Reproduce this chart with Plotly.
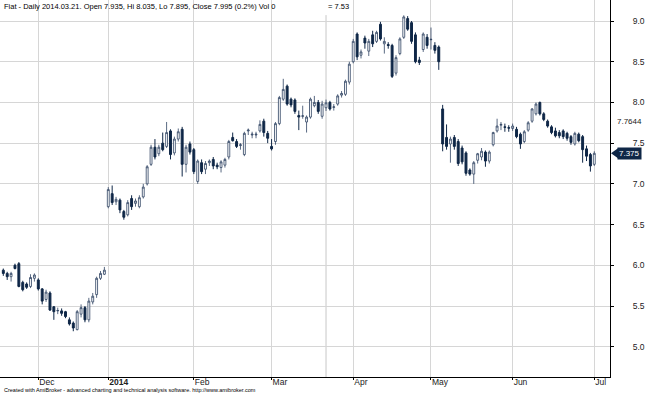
import pandas as pd
import plotly.graph_objects as go

# ---- data ----
holidays = ["2013-12-24", "2013-12-25", "2013-12-26", "2013-12-31", "2014-01-01",
            "2014-04-18", "2014-04-21", "2014-05-01"]
dates = [d.strftime("%Y-%m-%d") for d in pd.bdate_range("2013-11-19", "2014-07-01")
         if d.strftime("%Y-%m-%d") not in holidays]

opens = [5.94, 5.90, 5.86, 6.00, 6.02, 5.79, 5.77, 5.74, 5.84, 5.82,
         5.71, 5.58, 5.66, 5.49, 5.44, 5.44, 5.43, 5.33, 5.29, 5.21,
         5.40, 5.48, 5.33, 5.55, 5.64, 5.84, 5.89, 6.72, 6.88, 6.78,
         6.80, 6.66, 6.62, 6.82, 6.76, 6.72, 6.84, 7.00, 7.24, 7.45,
         7.37, 7.50, 7.46, 7.65, 7.38, 7.55, 7.67, 7.24, 7.49, 7.42,
         7.03, 7.26, 7.18, 7.26, 7.30, 7.23, 7.20, 7.23, 7.33, 7.57,
         7.52, 7.47, 7.36, 7.65, 7.60, 7.60, 7.65, 7.77, 7.62, 7.46,
         7.52, 7.74, 8.04, 8.20, 8.04, 8.03, 7.84, 7.83, 7.76, 7.82,
         7.96, 8.00, 7.83, 7.935, 8.00, 7.94, 7.98, 8.09, 8.10, 8.25,
         8.50, 8.84, 8.58, 8.79, 8.63, 8.83, 8.75, 8.96, 8.72, 8.71,
         8.70, 8.36, 8.60, 8.80, 9.03, 8.98, 8.83, 8.52, 8.65, 8.80,
         8.77, 8.70, 8.68, 7.92, 7.57, 7.49, 7.57, 7.52, 7.44, 7.38,
         7.17, 7.12, 7.29, 7.33, 7.39, 7.28, 7.48, 7.65, 7.72, 7.70,
         7.69, 7.68, 7.67, 7.61, 7.52, 7.66, 7.77, 7.86, 8.00, 7.86,
         7.77, 7.70, 7.65, 7.63, 7.65, 7.62, 7.58, 7.49, 7.61, 7.58,
         7.43, 7.36, 7.24]
highs = [5.96, 5.92, 5.92, 6.02, 6.04, 5.81, 5.79, 5.89, 5.90, 5.84,
         5.72, 5.70, 5.68, 5.50, 5.48, 5.47, 5.44, 5.36, 5.31, 5.45,
         5.52, 5.50, 5.60, 5.66, 5.86, 5.93, 5.98, 6.96, 6.98, 6.84,
         6.82, 6.68, 6.80, 6.86, 6.82, 6.86, 7.00, 7.23, 7.48, 7.55,
         7.48, 7.63, 7.76, 7.67, 7.58, 7.68, 7.70, 7.48, 7.52, 7.44,
         7.30, 7.30, 7.28, 7.30, 7.33, 7.26, 7.29, 7.32, 7.54, 7.63,
         7.55, 7.50, 7.64, 7.68, 7.64, 7.64, 7.78, 7.80, 7.65, 7.55,
         7.76, 8.08, 8.29, 8.22, 8.06, 8.05, 7.90, 7.96, 7.84, 8.06,
         8.08, 8.03, 8.02, 8.035, 8.02, 7.98, 8.10, 8.14, 8.28, 8.50,
         8.78, 8.86, 8.65, 8.82, 8.78, 8.88, 8.88, 8.99, 8.80, 8.74,
         8.72, 8.58, 8.80, 9.07, 9.06, 9.00, 8.86, 8.56, 8.86, 8.84,
         8.92, 8.74, 8.70, 7.97, 7.73, 7.58, 7.60, 7.55, 7.47, 7.40,
         7.19, 7.28, 7.38, 7.44, 7.41, 7.41, 7.64, 7.80, 7.76, 7.74,
         7.72, 7.74, 7.70, 7.63, 7.66, 7.77, 7.93, 8.00, 8.01, 7.88,
         7.79, 7.72, 7.69, 7.66, 7.67, 7.64, 7.60, 7.64, 7.63, 7.60,
         7.47, 7.38, 7.40]
lows = [5.87, 5.82, 5.80, 5.95, 5.73, 5.68, 5.71, 5.72, 5.80, 5.69,
        5.52, 5.55, 5.44, 5.33, 5.40, 5.38, 5.35, 5.26, 5.19, 5.20,
        5.36, 5.30, 5.30, 5.52, 5.60, 5.82, 5.88, 6.70, 6.74, 6.74,
        6.64, 6.56, 6.60, 6.68, 6.72, 6.70, 6.82, 6.98, 7.22, 7.30,
        7.34, 7.40, 7.44, 7.30, 7.35, 7.52, 7.09, 7.14, 7.36, 7.12,
        7.00, 7.12, 7.12, 7.22, 7.18, 7.18, 7.14, 7.20, 7.30, 7.52,
        7.44, 7.42, 7.34, 7.60, 7.56, 7.56, 7.63, 7.58, 7.50, 7.41,
        7.48, 7.72, 8.02, 7.96, 7.94, 7.86, 7.66, 7.80, 7.63, 7.80,
        7.94, 7.86, 7.80, 7.895, 7.90, 7.90, 7.96, 8.06, 8.08, 8.22,
        8.48, 8.52, 8.54, 8.66, 8.57, 8.68, 8.73, 8.76, 8.60, 8.66,
        8.30, 8.33, 8.58, 8.78, 8.88, 8.72, 8.48, 8.46, 8.62, 8.66,
        8.65, 8.60, 8.40, 7.40, 7.42, 7.26, 7.42, 7.22, 7.24, 7.10,
        7.10, 7.00, 7.25, 7.29, 7.21, 7.25, 7.46, 7.63, 7.66, 7.64,
        7.64, 7.65, 7.56, 7.43, 7.50, 7.64, 7.75, 7.84, 7.84, 7.77,
        7.69, 7.61, 7.57, 7.56, 7.55, 7.53, 7.48, 7.47, 7.51, 7.26,
        7.28, 7.15, 7.22]
closes = [5.90, 5.86, 5.90, 5.96, 5.74, 5.70, 5.73, 5.85, 5.88, 5.71,
          5.56, 5.67, 5.45, 5.43, 5.445, 5.41, 5.37, 5.28, 5.23, 5.43,
          5.48, 5.33, 5.56, 5.62, 5.84, 5.90, 5.94, 6.93, 6.77, 6.81,
          6.68, 6.59, 6.77, 6.72, 6.79, 6.83, 6.96, 7.21, 7.45, 7.33,
          7.45, 7.42, 7.63, 7.36, 7.55, 7.64, 7.24, 7.45, 7.39, 7.15,
          7.28, 7.15, 7.25, 7.28, 7.22, 7.21, 7.27, 7.30, 7.52, 7.53,
          7.46, 7.48, 7.62, 7.66, 7.61, 7.61, 7.73, 7.63, 7.56, 7.43,
          7.74, 8.06, 8.16, 7.98, 7.97, 7.89, 7.82, 7.835, 7.82, 8.04,
          8.00, 7.89, 7.98, 7.995, 7.92, 7.945, 8.08, 8.11, 8.26, 8.47,
          8.75, 8.56, 8.62, 8.73, 8.75, 8.72, 8.86, 8.78, 8.75, 8.70,
          8.32, 8.55, 8.78, 9.05, 8.90, 8.75, 8.50, 8.49, 8.84, 8.70,
          8.775, 8.64, 8.50, 7.49, 7.46, 7.55, 7.46, 7.25, 7.27, 7.13,
          7.12, 7.26, 7.37, 7.40, 7.28, 7.39, 7.63, 7.71, 7.73, 7.695,
          7.685, 7.71, 7.58, 7.49, 7.64, 7.75, 7.92, 7.98, 7.86, 7.79,
          7.71, 7.63, 7.59, 7.59, 7.58, 7.56, 7.51, 7.62, 7.53, 7.42,
          7.34, 7.22, 7.375]

month_ticks = ["2013-12-02", "2014-01-02", "2014-02-03", "2014-03-03",
               "2014-04-01", "2014-05-02", "2014-06-02", "2014-07-01"]
month_labels = ["Dec", "<b>2014</b>", "Feb", "Mar", "Apr", "May", "Jun", "Jul"]
price_ticks = [5.0, 5.5, 6.0, 6.5, 7.0, 7.5, 8.0, 8.5, 9.0]

selected_date = "2014-03-21"
title_text = "Fiat - Daily 2014.03.21. Open 7.935, Hi 8.035, Lo 7.895, Close 7.995 (0.2%) Vol 0"
indicator_text = "= 7.53"
side_value = 7.7644
footer_text = ("Created with AmiBroker - advanced charting and technical analysis software. "
               "http://www.amibroker.com")

NAVY = "#0f2747"
GRID = "#d6d6d6"
FONT = "Liberation Sans, Arial, sans-serif"

fig = go.Figure(go.Candlestick(
    x=dates, open=opens, high=highs, low=lows, close=closes,
    increasing=dict(fillcolor="white", line=dict(color="#2e4262", width=0.8)),
    decreasing=dict(fillcolor=NAVY, line=dict(color=NAVY, width=1)),
    whiskerwidth=0, showlegend=False, hoverinfo="skip",
))

fig.update_layout(
    width=645, height=394,
    margin=dict(l=0, r=35, t=0, b=17, autoexpand=False),
    paper_bgcolor="white", plot_bgcolor="white",
    font=dict(family=FONT, size=8, color="black"),
    xaxis=dict(
        type="category", range=[-0.85, 156.04],
        rangeslider=dict(visible=False),
        tickmode="array", tickvals=month_ticks, ticktext=month_labels,
        ticklabelposition="outside right",
        ticklabelstandoff=-3,
        showgrid=True, gridcolor=GRID, gridwidth=1,
        ticks="outside", ticklen=2, tickcolor="black",
        showline=True, linecolor="black", linewidth=1,
        tickfont=dict(size=8.5, color="#222"),
        zeroline=False, fixedrange=True, automargin=False,
    ),
    yaxis=dict(
        side="right", range=[4.628, 9.258],
        tickmode="array", tickvals=price_ticks,
        ticktext=[f"{v:.1f}" for v in price_ticks],
        showgrid=True, gridcolor=GRID, gridwidth=1,
        ticks="outside", ticklen=3, tickcolor="black",
        ticklabelstandoff=17,
        showline=True, linecolor="black", linewidth=1, mirror=True,
        tickfont=dict(size=8.5, color="#222"),
        zeroline=False, fixedrange=True, automargin=False,
    ),
)

# white band behind the title (hides gridlines there)
fig.add_shape(type="rect", xref="paper", yref="paper", x0=0, x1=1, y0=0.96, y1=1,
              fillcolor="white", line=dict(width=0), layer="between")
# selected-bar cursor line
fig.add_shape(type="line", xref="x", yref="paper", x0=selected_date, x1=selected_date,
              y0=0, y1=0.96, line=dict(color="#c8c8c8", width=1), layer="between")

fig.add_annotation(xref="paper", yref="paper", x=0.003, y=1, xanchor="left", yanchor="top",
                   text=title_text, showarrow=False, font=dict(size=7.5, color="black"))
fig.add_annotation(xref="paper", yref="paper", x=326 / 610, y=1, xanchor="left", yanchor="top",
                   text=indicator_text, showarrow=False, font=dict(size=7.5, color="black"))
fig.add_annotation(xref="paper", yref="y", x=1, y=side_value, xanchor="left", yanchor="middle",
                   xshift=5, text=f"{side_value}", showarrow=False, font=dict(size=8, color="#222"))
fig.add_annotation(xref="paper", yref="y", x=1, y=closes[-1], xanchor="left", yanchor="middle",
                   xshift=7, text=f"{closes[-1]}", showarrow=False, bgcolor=NAVY, borderpad=1,
                   font=dict(size=8, color="white"))
fig.add_shape(type="path", xref="paper", yref="y", xsizemode="pixel", ysizemode="pixel",
              xanchor=1, yanchor=closes[-1], path="M 1,0 L 8,5 L 8,-5 Z",
              fillcolor=NAVY, line=dict(width=0), layer="above")
fig.add_annotation(xref="paper", yref="paper", x=0.003, y=-0.0345, xanchor="left", yanchor="middle",
                   text=footer_text, showarrow=False, font=dict(size=5.5, color="black"))

fig.write_html("out.html", config={"displayModeBar": False},
               post_script="document.body.style.margin='0';document.body.style.overflow='hidden';")
